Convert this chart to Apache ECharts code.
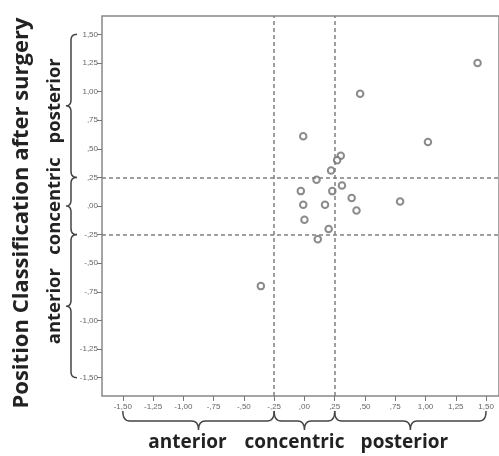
<!DOCTYPE html>
<html>
<head>
<meta charset="utf-8">
<script src="https://cdn.jsdelivr.net/npm/echarts@6/dist/echarts.min.js"></script>
<style>html,body{margin:0;padding:0;background:#fff;}#c{width:499px;height:456px;}</style>
</head>
<body>
<div id="c"></div>
<script>
// Data
var xValues = [1.43, 0.46, -0.01, 1.02, 0.30, 0.27, 0.22, 0.10, 0.31, -0.03, 0.23, 0.39, 0.79, -0.01, 0.17, 0.43, 0.00, 0.20, 0.11, -0.36];
var yValues = [1.25, 0.98, 0.61, 0.56, 0.44, 0.40, 0.31, 0.23, 0.18, 0.13, 0.13, 0.07, 0.04, 0.01, 0.01, -0.04, -0.12, -0.20, -0.29, -0.70];
var tickValues = [-1.5, -1.25, -1, -0.75, -0.5, -0.25, 0, 0.25, 0.5, 0.75, 1, 1.25, 1.5];
var cutoffs = [-0.25, 0.25];
var classNames = ['anterior', 'concentric', 'posterior'];
var classBounds = [[-1.5, -0.25], [-0.25, 0.25], [0.25, 1.5]];
var yTitle = 'Position Classification after surgery';

function fmt(v) {
  var s = Math.abs(v).toFixed(2).replace('.', ',');
  if (s.charAt(0) === '0') s = s.slice(1);
  return (v < 0 ? '-' : '') + s;
}

var points = xValues.map(function (x, i) { return [x, yValues[i]]; });
var markData = [];
cutoffs.forEach(function (c) { markData.push({ xAxis: c }); });
cutoffs.forEach(function (c) { markData.push({ yAxis: c }); });

var axisCommon = {
  type: 'value',
  splitLine: { show: false },
  axisLine: { show: false, onZero: false },
  axisTick: { show: true, length: 5, customValues: tickValues, lineStyle: { color: '#777', width: 1 } },
  axisLabel: { customValues: tickValues, formatter: fmt, fontSize: 8, color: '#666', fontFamily: 'Liberation Sans Narrow, Liberation Sans, sans-serif' }
};

var chart = echarts.init(document.getElementById('c'), null, { renderer: 'canvas' });
chart.setOption({
  animation: false,
  grid: { left: 102, top: 16, width: 400, height: 380, show: true, borderColor: '#888', borderWidth: 1.5 },
  xAxis: Object.assign({}, axisCommon, { min: -1.672, max: 1.607, axisLabel: Object.assign({}, axisCommon.axisLabel, { margin: 7 }) }),
  yAxis: Object.assign({}, axisCommon, { min: -1.66, max: 1.66, axisLabel: Object.assign({}, axisCommon.axisLabel, { margin: 4 }) }),
  series: [{
    type: 'scatter',
    data: points,
    symbol: 'emptyCircle',
    symbolSize: 6.5,
    itemStyle: { color: '#6e6e6e', borderColor: '#6e6e6e', borderWidth: 1.4 },
    markLine: {
      silent: true,
      symbol: 'none',
      label: { show: false },
      lineStyle: { type: [4, 3], color: '#808080', width: 1.5 },
      data: markData
    }
  }]
});

function quad(pts, p0, c, p1) {
  for (var k = 1; k <= 8; k++) {
    var t = k / 8, u = 1 - t;
    pts.push([u * u * p0[0] + 2 * u * t * c[0] + t * t * p1[0], u * u * p0[1] + 2 * u * t * c[1] + t * t * p1[1]]);
  }
}
// brace in local coords (t along axis, s outward)
function braceLocal(a, b, r1, r2, c) {
  var sg = b > a ? 1 : -1, m = (a + b) / 2, pts = [[a, 0]];
  quad(pts, [a, 0], [a, r1], [a + sg * c, r1]);
  pts.push([m - sg * c, r1]);
  quad(pts, [m - sg * c, r1], [m, r1], [m, r1 + r2]);
  quad(pts, [m, r1 + r2], [m, r1], [m + sg * c, r1]);
  pts.push([b - sg * c, r1]);
  quad(pts, [b - sg * c, r1], [b, r1], [b, 0]);
  return pts;
}

var graphics = [];
var braceStyle = { stroke: '#444', lineWidth: 1.5, fill: null };
var textStyleBase = { fill: '#222', fontFamily: 'Open Sans, sans-serif', fontWeight: 'bold' };
var leftOffsets = [0, 0, -5];
var bottomOffsets = [-11, -10, -6];
classBounds.forEach(function (bd, i) {
  var xa = chart.convertToPixel({ gridIndex: 0 }, [bd[0], 0])[0];
  var xb = chart.convertToPixel({ gridIndex: 0 }, [bd[1], 0])[0];
  var baseY = 411;
  var hp = braceLocal(xa, xb, 10, 9, 7).map(function (p) { return [p[0], baseY + p[1]]; });
  graphics.push({ type: 'polyline', shape: { points: hp }, style: braceStyle, silent: true });
  graphics.push({ type: 'text', x: (xa + xb) / 2 + bottomOffsets[i], y: 443, style: Object.assign({ text: classNames[i], fontSize: 19, align: 'center', verticalAlign: 'middle' }, textStyleBase), silent: true });
  var ya = chart.convertToPixel({ gridIndex: 0 }, [0, bd[0]])[1];
  var yb = chart.convertToPixel({ gridIndex: 0 }, [0, bd[1]])[1];
  var baseX = 77;
  var vp = braceLocal(ya, yb, 6, 5, 6).map(function (p) { return [baseX - p[1], p[0]]; });
  graphics.push({ type: 'polyline', shape: { points: vp }, style: braceStyle, silent: true });
  graphics.push({ type: 'text', x: 55, y: (ya + yb) / 2 + leftOffsets[i], rotation: Math.PI / 2, style: Object.assign({ text: classNames[i], fontSize: 18.5, align: 'center', verticalAlign: 'middle' }, textStyleBase), silent: true });
});
graphics.push({ type: 'text', x: 22, y: 213, rotation: Math.PI / 2, style: Object.assign({ text: yTitle, fontSize: 22, align: 'center', verticalAlign: 'middle' }, textStyleBase), silent: true });
chart.setOption({ graphic: graphics });
</script>
</body>
</html>
